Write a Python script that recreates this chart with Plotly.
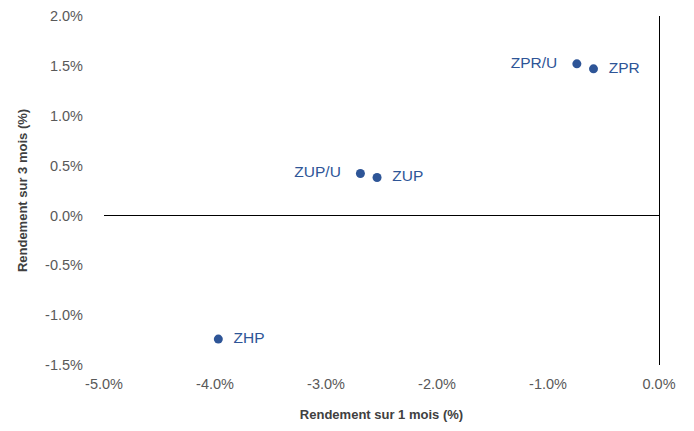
import plotly.graph_objects as go

names = ["ZPR/U", "ZPR", "ZUP/U", "ZUP", "ZHP"]
ret_1m = [-0.74, -0.59, -2.69, -2.54, -3.97]
ret_3m = [1.52, 1.47, 0.42, 0.38, -1.24]
label_pos = ["middle left", "middle right", "middle left", "middle right", "middle right"]

x_ticks = [-5.0, -4.0, -3.0, -2.0, -1.0, 0.0]
y_ticks = [-1.5, -1.0, -0.5, 0.0, 0.5, 1.0, 1.5, 2.0]

blue = "#2E5597"

fig = go.Figure()
fig.add_trace(go.Scatter(
    x=ret_1m, y=ret_3m, mode="markers+text",
    text=[("  " + n) if p.endswith("right") else (n + "   ") for n, p in zip(names, label_pos)],
    textposition=label_pos,
    marker=dict(color=blue, size=9),
    textfont=dict(color=blue, size=15.5, family="Liberation Sans"),
    showlegend=False, cliponaxis=False, hoverinfo="skip",
))

fig.update_layout(
    width=694, height=431,
    margin=dict(l=104, r=35, t=16, b=66),
    plot_bgcolor="white", paper_bgcolor="white",
    font=dict(family="Liberation Sans", size=14.5, color="#595959"),
    xaxis=dict(
        range=[-5, 0], tickvals=x_ticks, ticktext=[f"{v:.1f}%" for v in x_ticks],
        showgrid=False, zeroline=True, zerolinecolor="black", zerolinewidth=1,
        showline=False, ticks="", ticklabelstandoff=8, ticklabeloverflow="allow",
        automargin="bottom",
        title=dict(text="<b>Rendement sur 1 mois (%)</b>", font=dict(size=13, color="#404040"), standoff=19),
    ),
    yaxis=dict(
        range=[-1.5, 2.0], tickvals=y_ticks, ticktext=[f"{v:.1f}%" for v in y_ticks],
        showgrid=False, zeroline=True, zerolinecolor="black", zerolinewidth=1,
        showline=False, ticks="", ticklabelstandoff=20, ticklabeloverflow="allow",
        automargin="left",
        title=dict(text="<b>Rendement sur 3 mois (%)</b>", font=dict(size=13, color="#404040"), standoff=14),
    ),
)

fig.write_html("out.html", config={"displayModeBar": False},
               post_script="document.body.style.margin='0';")
